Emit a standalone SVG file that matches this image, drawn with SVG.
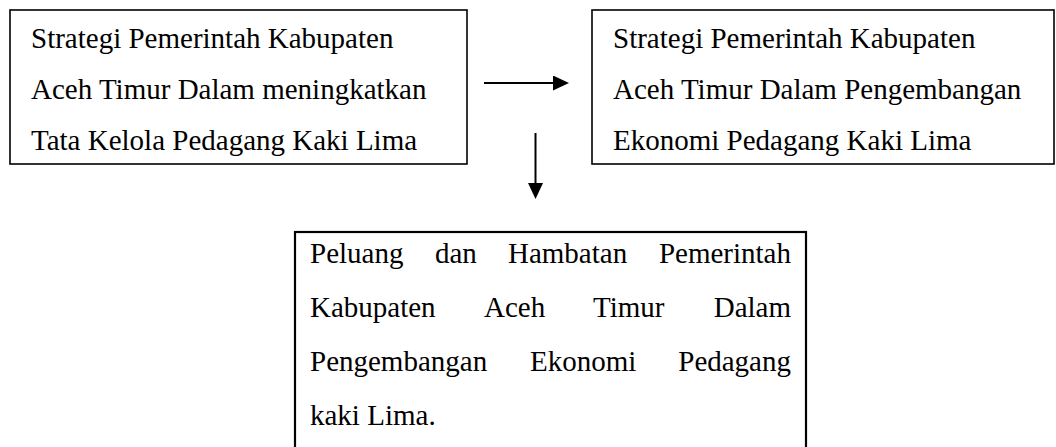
<svg xmlns="http://www.w3.org/2000/svg" width="1056" height="447" viewBox="0 0 1056 447">
<style>
.box{fill:#fff;stroke:#000;stroke-width:1.6}
.box2{fill:#fff;stroke:#000;stroke-width:2.2}
.t{font-family:"Liberation Serif","Times New Roman",serif;font-size:29px;fill:#000}
.conn{stroke:#000;stroke-width:2;fill:none}
</style>
<defs>
<marker id="ah" markerUnits="userSpaceOnUse" markerWidth="16" markerHeight="15" refX="2" refY="7.5" orient="auto" viewBox="0 0 16 15">
<path d="M0,0 L16,7.5 L0,15 z" fill="#000"/>
</marker>
</defs>
<rect width="1056" height="447" fill="#fff"/>
<g id="node-left">
<rect class="box" x="10" y="10" width="457" height="154"/>
<text class="t" x="31" y="48">Strategi Pemerintah Kabupaten</text>
<text class="t" x="31" y="99">Aceh Timur Dalam meningkatkan</text>
<text class="t" x="31" y="150">Tata Kelola Pedagang Kaki Lima</text>
</g>
<g id="node-right">
<rect class="box" x="592" y="10" width="462" height="154"/>
<text class="t" x="613" y="48">Strategi Pemerintah Kabupaten</text>
<text class="t" x="613" y="99">Aceh Timur Dalam Pengembangan</text>
<text class="t" x="613" y="150">Ekonomi Pedagang Kaki Lima</text>
</g>
<g id="node-bottom">
<rect class="box2" x="295" y="232" width="511" height="230"/>
<text class="t" y="263"><tspan x="310">Peluang</tspan><tspan x="435">dan</tspan><tspan x="508">Hambatan</tspan></text>
<text class="t" x="791" y="263" text-anchor="end">Pemerintah</text>
<text class="t" y="317"><tspan x="310">Kabupaten</tspan><tspan x="484">Aceh</tspan><tspan x="593">Timur</tspan></text>
<text class="t" x="791" y="317" text-anchor="end">Dalam</text>
<text class="t" y="371"><tspan x="310">Pengembangan</tspan><tspan x="530">Ekonomi</tspan></text>
<text class="t" x="791" y="371" text-anchor="end">Pedagang</text>
<text class="t" x="310" y="425">kaki Lima.</text>
</g>
<g id="connectors">
<line class="conn" x1="484" y1="83" x2="555" y2="83" marker-end="url(#ah)"/>
<line class="conn" x1="535.5" y1="133" x2="535.5" y2="185" marker-end="url(#ah)"/>
</g>
</svg>
